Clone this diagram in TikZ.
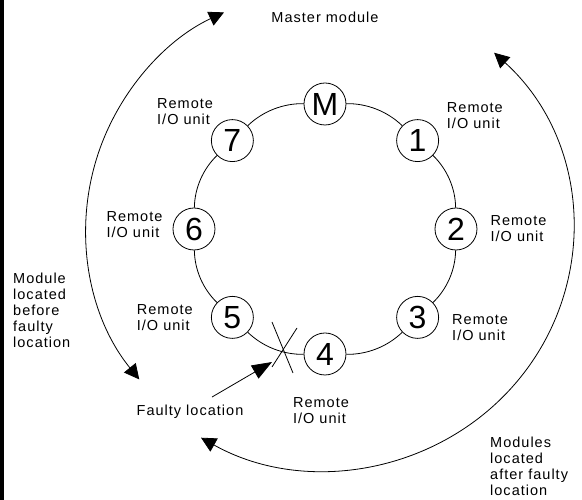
\documentclass[tikz,border=0pt]{standalone}
\usepackage{fontspec}
\setmainfont{Liberation Sans}[LetterSpace=7]
\newfontfamily\digitfont{Liberation Sans}
\usetikzlibrary{arrows.meta,positioning}

\begin{document}
\begin{tikzpicture}[
  x=1pt, y=1pt,
  unit/.style={
    draw,
    circle,
    fill=white,
    line width=0.8pt,
    minimum size=42pt,
    inner sep=0pt,
    font=\digitfont\fontsize{32}{32}\selectfont
  },
  lbl/.style={
    inner sep=0pt,
    align=left,
    font=\fontsize{14.5}{16}\selectfont
  },
  ring/.style={line width=0.8pt},
  sweep/.style={
    line width=0.8pt,
    {Triangle[length=15pt,width=15pt]}-{Triangle[length=15pt,width=15pt]}
  }
]
  \useasboundingbox (-325,-271) rectangle (257,229);
  \fill (-325,-271) rectangle (-321,229);

  \foreach \nm/\ang/\txt in {m/90/M, u1/45/1, u2/0/2, u3/-45/3, u4/-90/4, u5/-135/5, u6/180/6, u7/135/7}
    \node[unit] (\nm) at (\ang:131 and 125) {\txt};

  \foreach \a/\b in {m/u1, u1/u2, u2/u3, u3/u4, u4/u5, u5/u6, u6/u7, u7/m}
    \draw[ring] (\a) to[bend left=22.5,looseness=0.88] (\b);

  \node[lbl,above=60pt of m] (master) {Master module};
  \node[lbl,above right=-3pt and 14pt of u1] (l1) {Remote\\I/O unit};
  \node[lbl,right=13pt of u2] (l2) {Remote\\I/O unit};
  \node[lbl,right=13pt of u3,yshift=-10pt] (l3) {Remote\\I/O unit};
  \node[lbl,below=22pt of u4,xshift=-4pt] (l4) {Remote\\I/O unit};
  \node[lbl,left=18pt of u5] (l5) {Remote\\I/O unit};
  \node[lbl,left=10pt of u6,yshift=4pt] (l6) {Remote\\I/O unit};
  \node[lbl,above left=1pt and 4pt of u7] (l7) {Remote\\I/O unit};

  \node[lbl] (faulty) at (-135,-183) {Faulty location};
  \node[lbl,anchor=west] (before) at (-312,-81) {Module\\located\\before\\faulty\\location};
  \node[lbl,anchor=west] (after) at (165,-237) {Modules\\located\\after faulty\\location};

  \coordinate (fault) at (-42,-121);
  \draw[ring] (fault) ++(-11,28) -- ++(21,-51);
  \draw[ring] (fault) ++(14,22) -- ++(-25,-39);
  \draw[ring,-{Triangle[length=20pt,width=15pt]}] ([shift={(22,8)}]faulty.north) -- ([shift={(-11,-12)}]fault);

  \draw[sweep] (219:239) arc[start angle=219, end angle=115, radius=239];
  \draw[sweep] (47:248 and 241) arc[start angle=47, end angle=-120, x radius=248, y radius=241];
\end{tikzpicture}
\end{document}
